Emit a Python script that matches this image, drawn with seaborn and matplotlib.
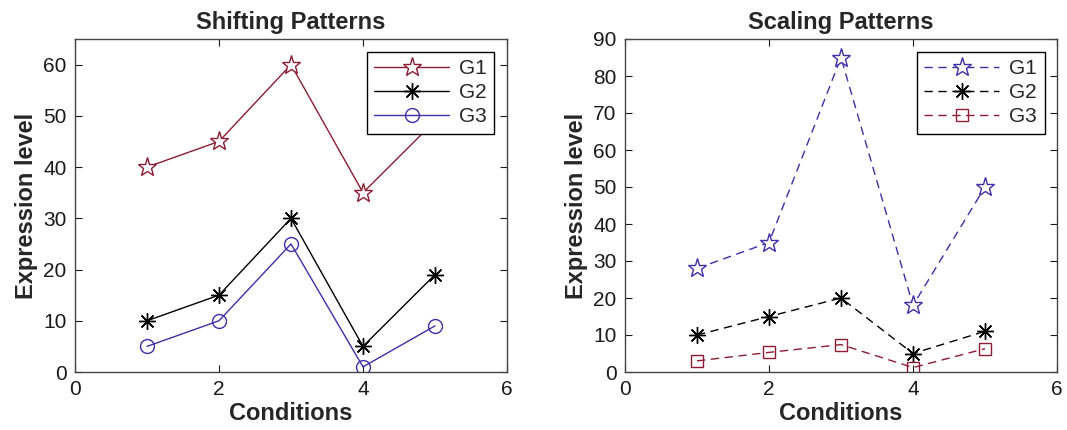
import numpy as np
import pandas as pd
import matplotlib
matplotlib.use("Agg")
import matplotlib.pyplot as plt
import seaborn as sns

sns.set_style("ticks")
plt.rcParams['font.family'] = ['Liberation Sans', 'DejaVu Sans']

conditions = [1, 2, 3, 4, 5]
series_names = ["G1", "G2", "G3"]

# shifting patterns
shift_g1 = [40, 45, 60, 35, 49]
shift_g2 = [10, 15, 30, 5, 19]
shift_g3 = [5, 10, 25, 1, 9]

# scaling patterns
scale_g1 = [28, 35, 85, 18, 50]
scale_g2 = [10, 15, 20, 5, 11]
scale_g3 = [3, 5.3, 7.4, 1.2, 6.3]

dark_red = "#8c1c33"
blue = "#3d2fa8"
asterisk = (8, 2, 0)

shift_df = pd.DataFrame({"cond": conditions * 3,
                         "val": shift_g1 + shift_g2 + shift_g3,
                         "gene": np.repeat(series_names, len(conditions))})
scale_df = pd.DataFrame({"cond": conditions * 3,
                         "val": scale_g1 + scale_g2 + scale_g3,
                         "gene": np.repeat(series_names, len(conditions))})

fig = plt.figure(figsize=(10.67, 4.30), dpi=100)
ax1 = fig.add_axes([75 / 1067, 1 - 372 / 430, 432 / 1067, 333 / 430])
ax2 = fig.add_axes([625 / 1067, 1 - 372 / 430, 432 / 1067, 333 / 430])

left_styles = {"G1": dict(color=dark_red, marker="*", ms=14, mfc="white", mec=dark_red, mew=1.0),
               "G2": dict(color="black", marker=asterisk, ms=12, mfc="black", mec="black", mew=1.0),
               "G3": dict(color=blue, marker="o", ms=10, mfc="none", mec=blue, mew=1.0)}
right_styles = {"G1": dict(color=blue, marker="*", ms=14, mfc="white", mec=blue, mew=1.0),
                "G2": dict(color="black", marker=asterisk, ms=12, mfc="black", mec="black", mew=1.0),
                "G3": dict(color=dark_red, marker="s", ms=9, mfc="none", mec=dark_red, mew=1.0)}

for name in series_names:
    d = shift_df[shift_df.gene == name]
    sns.lineplot(x=d["cond"], y=d["val"], ax=ax1, label=name, lw=1.0, **left_styles[name])
    d = scale_df[scale_df.gene == name]
    sns.lineplot(x=d["cond"], y=d["val"], ax=ax2, label=name, lw=1.0,
                 linestyle=(0, (6, 4)), **right_styles[name])

for ax, title, ylim, yticks in [(ax1, "Shifting Patterns", (0, 65), range(0, 61, 10)),
                                (ax2, "Scaling Patterns", (0, 90), range(0, 91, 10))]:
    ax.set_xlim(0, 6)
    ax.set_ylim(*ylim)
    ax.set_xticks([0, 2, 4, 6])
    ax.set_yticks(list(yticks))
    ax.tick_params(direction="in", length=5, labelsize=15, pad=6, top=True, right=True,
                   colors="#1a1a1a")
    for s in ax.spines.values():
        s.set_visible(True)
        s.set_color("#444444")
        s.set_linewidth(1.0)
    ax.set_title(title, fontsize=17, fontweight="bold", pad=7)
    ax.set_xlabel("Conditions", fontsize=17, fontweight="bold", labelpad=2)
    ax.set_ylabel("Expression level", fontsize=17, fontweight="bold", labelpad=4)
    leg = ax.legend(loc="upper right", fontsize=15, frameon=True, fancybox=False,
                    framealpha=1, edgecolor="black", handlelength=3.6, borderaxespad=0.6,
                    labelspacing=0.25, handletextpad=0.5, borderpad=0.35)
    leg.get_frame().set_linewidth(1.0)

fig.savefig("out.png", dpi=100)
